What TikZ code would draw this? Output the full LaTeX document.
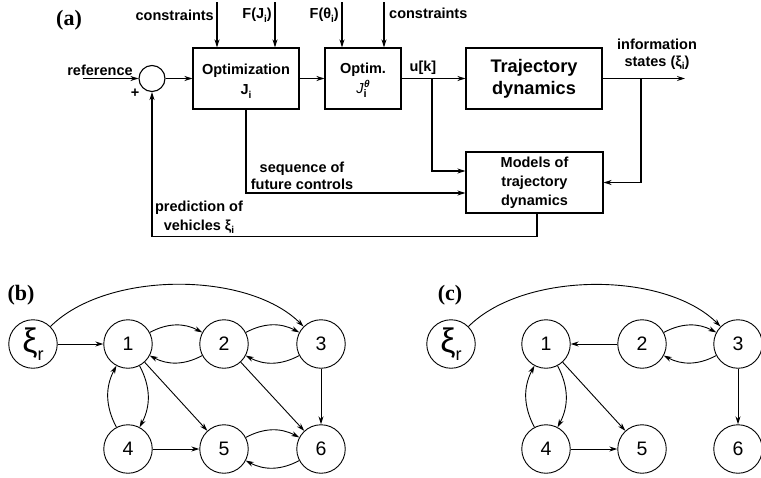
\documentclass[tikz,border=0pt]{standalone}
\usepackage{fontspec}
\setmainfont{Liberation Sans}
\newfontfamily\labfont{Liberation Serif}
\usetikzlibrary{arrows.meta,calc}
\newcommand\lowsub[1]{\raisebox{-3.5pt}{\fontsize{10}{10}\selectfont #1}}
\newcommand\Jtheta{{\mdseries\itshape J}\rlap{\raisebox{-4.5pt}{\fontsize{11}{11}\selectfont\bfseries i}}\kern0.5pt\raisebox{6pt}{\fontsize{10}{10}\selectfont\itshape\bfseries θ}}
\newcommand\xir{\fontsize{34}{34}\selectfont ξ\raisebox{-8pt}{\fontsize{18}{18}\selectfont r}}
\begin{document}
\begin{tikzpicture}[x=1pt,y=-1pt,
  >={Stealth[length=8pt,width=5pt]},
  txt/.style={font=\fontsize{14.5}{17}\selectfont\bfseries, inner sep=0pt},
  blk/.style={draw, line width=1.1pt, inner sep=0pt, align=center},
  con/.style={line width=1.1pt},
  gnode/.style={circle, draw, line width=0.9pt, minimum size=48.5pt, inner sep=0pt, font=\fontsize{19.5}{19.5}\selectfont},
  ged/.style={line width=0.9pt, ->},
  plab/.style={font=\labfont\bfseries\fontsize{22}{22}\selectfont, inner sep=0pt}]
\useasboundingbox (0,0) rectangle (761,477);

% ---------------- (a) ----------------
\node[plab] (la) at (69,20) {(a)};

\node[blk, minimum width=106pt, minimum height=61pt] (opt) at (246,78.5) {};
\node[txt, align=center] (optT) at (246,81) {Optimization\\[3pt]J\lowsub{i}};
\node[blk, minimum width=76pt, minimum height=61pt] (optim) at (363,78.5) {};
\node[txt, align=center] (optimT) at (363,80) {Optim.\\[3pt]\Jtheta};
\node[blk, font=\fontsize{18.2}{22}\selectfont\bfseries, minimum width=136pt, minimum height=61pt] (traj) at (534,78.5) {Trajectory\\dynamics};
\node[blk, font=\fontsize{14.5}{19}\selectfont\bfseries, minimum width=137pt, minimum height=61pt] (models) at (534.5,182.5) {Models of\\trajectory\\dynamics};
\node[circle, draw, line width=1.1pt, minimum size=26pt, inner sep=0pt] (sum) at (152,78.5) {};

\coordinate (ref) at (83,78.5);
\draw[con,->] (ref) -- (sum.west);
\node[txt] (reflab) at (100,70.5) {reference};
\node[txt] (plus) at (135,93) {+};
\draw[con,->] (sum.east) -- (opt.west);
\draw[con,->] (opt.east) -- (optim.west);
\draw[con,->] (optim.east) -- (traj.west);
\coordinate (out) at (685,78.5);
\draw[con,->] (traj.east) -- (out);

% top inputs
\coordinate (c1) at (217,2);
\coordinate (c2) at (275,2);
\coordinate (c3) at (342,2);
\coordinate (c4) at (384,2);
\draw[con,->] (c1) -- (c1 |- opt.north);
\draw[con,->] (c2) -- (c2 |- opt.north);
\draw[con,->] (c3) -- (c3 |- optim.north);
\draw[con,->] (c4) -- (c4 |- optim.north);
\node[txt, anchor=east] (lc1) at (214,15) {constraints};
\node[txt, anchor=east] (lc2) at (272,15) {F(J\lowsub{i})};
\node[txt, anchor=east] (lc3) at (339,15) {F(θ\lowsub{i})};
\node[txt, anchor=west] (lc4) at (389,13) {constraints};

\node[txt] (uk) at (423,68) {u[k]};
\node[txt, align=center] (info) at (657,54) {information\\states (ξ\lowsub{i})};

% branches
\coordinate (ub) at (432,78.5);
\coordinate (ib) at (641,78.5);
\draw[con,->] (ub) |- ([yshift=11.5pt]models.west);
\draw[con,->] (ib) |- (models.east);
\draw[con,->] (opt.south) |- ([yshift=-10.5pt]models.west);
\draw[con,->] ([xshift=2.5pt]models.south) -- ++(0,22.5) -| (sum.south);

\node[txt, align=center] (seq) at (302,176) {sequence of\\future controls};
\node[txt, align=center, font=\fontsize{14.5}{19}\selectfont\bfseries] (pred) at (199,217) {prediction of\\vehicles ξ\lowsub{i}};

% ---------------- (b) ----------------
\node[plab] (lb) at (21,295) {(b)};
\node[gnode] (b0) at (33,344) {\xir};
\node[gnode] (b1) at (128,344) {1};
\node[gnode] (b2) at (224,344) {2};
\node[gnode] (b3) at (321,344) {3};
\node[gnode] (b4) at (128,449) {4};
\node[gnode] (b5) at (224,449) {5};
\node[gnode] (b6) at (321,449) {6};
\draw[ged] (b0) -- (b1);
\draw[ged] (b0) to[bend left=45, looseness=0.8] (b3);
\draw[ged] (b1) to[bend left=28] (b2);
\draw[ged] (b2) to[bend left=28] (b1);
\draw[ged] (b2) to[bend left=28] (b3);
\draw[ged] (b3) to[bend left=28] (b2);
\draw[ged] (b1) to[bend left=28] (b4);
\draw[ged] (b4) to[bend left=28] (b1);
\draw[ged] (b1) -- (b5);
\draw[ged] (b2) -- (b6);
\draw[ged] (b3) -- (b6);
\draw[ged] (b4) -- (b5);
\draw[ged] (b5) to[bend left=28] (b6);
\draw[ged] (b6) to[bend left=28] (b5);

% ---------------- (c) ----------------
\node[plab] (lc) at (450,295) {(c)};
\node[gnode] (c0) at (451,344) {\xir};
\node[gnode] (cc1) at (546,344) {1};
\node[gnode] (cc2) at (642,344) {2};
\node[gnode] (cc3) at (738,344) {3};
\node[gnode] (cc4) at (546,449) {4};
\node[gnode] (cc5) at (642,449) {5};
\node[gnode] (cc6) at (738,449) {6};
\draw[ged] (c0) to[bend left=45, looseness=0.8] (cc3);
\draw[ged] (cc2) -- (cc1);
\draw[ged] (cc2) to[bend left=28] (cc3);
\draw[ged] (cc3) to[bend left=28] (cc2);
\draw[ged] (cc1) to[bend left=28] (cc4);
\draw[ged] (cc4) to[bend left=28] (cc1);
\draw[ged] (cc1) -- (cc5);
\draw[ged] (cc4) -- (cc5);
\draw[ged] (cc3) -- (cc6);
\end{tikzpicture}
\end{document}
